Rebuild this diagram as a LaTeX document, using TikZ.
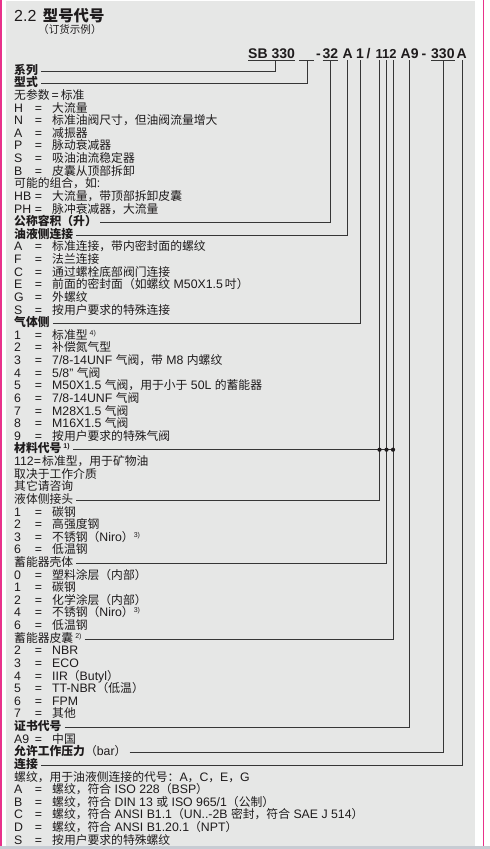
\documentclass[tikz,border=0pt]{standalone}
\usepackage{fontspec}
\setmainfont{Liberation Sans}
\newfontfamily\cjk[Scale=0.96]{Noto Sans CJK SC}
\newcommand\zh[1]{{\cjk #1}}
\newcommand\supx[1]{\raisebox{4pt}{\fontsize{7}{7}\selectfont #1}}
\definecolor{bg}{HTML}{E6E7E6}
\definecolor{ink}{HTML}{1E1B1C}
\definecolor{ln}{HTML}{363636}
\definecolor{edge}{HTML}{E8318A}
\definecolor{stripe}{HTML}{C7CCD3}
\tikzset{
  txt/.style={anchor=west, inner sep=0pt, text height=8.8pt, text depth=2.4pt,
    font=\fontsize{12.3}{12.5}\selectfont, text=ink},
  hd/.style={txt, font=\fontsize{12.3}{12.5}\selectfont\bfseries},
  conn/.style={draw=ln, line width=0.8pt, shorten <=3pt},
  uline/.style={draw=ln, line width=0.9pt},
  codetxt/.style={anchor=base west, inner sep=0pt,
    font=\fontsize{14}{14}\selectfont\bfseries, text=ink},
  junction/.style={fill=ink},
}
\newcommand\rowy[1]{\pgfmathsetmacro\yy{71+(#1-1)*12.623}}
\newcommand\hrow[3]{\rowy{#2}\node[hd] (#1) at (14,\yy) {#3};}
\newcommand\prow[3]{\rowy{#2}\node[txt] (#1) at (14,\yy) {#3};}
\newcommand\irow[4]{\rowy{#2}%
  \node[txt] (#1k) at (14,\yy) {#3};%
  \node[txt, anchor=center] (#1e) at (38.5,\yy) {=};%
  \node[txt] (#1v) at (52,\yy) {#4};}
\begin{document}
\begin{tikzpicture}[x=1pt, y=-1pt]
\useasboundingbox (0,0) rectangle (490,849);
% frame
\fill[bg] (6,1) rectangle (475,846);
\fill[edge] (0,0) rectangle (1.6,846);
\fill[edge] (482.7,0) rectangle (484.3,846);
\fill[stripe] (0,846) rectangle (490,849);
% title
\node[anchor=base west, inner sep=0pt, text=ink, font=\fontsize{16}{16}\selectfont] (title) at (14,21)
  {2.2\hspace{6.5pt}\zh{\bfseries 型号代号}};
\node[anchor=west, inner sep=0pt, text=ink, font=\fontsize{11}{11}\selectfont] (subtitle) at (38,29.5)
  {\zh{（订货示例）}};
% code line
\node[codetxt] (cSB) at (248,58.3) {SB 330};
\node[codetxt] (cD1) at (315.8,58.3) {-};
\node[codetxt] (c32) at (322.5,58.3) {32};
\node[codetxt] (cA) at (342.5,58.3) {A};
\node[codetxt] (c1) at (356,58.3) {1};
\node[codetxt] (cSl) at (366.5,58.3) {/};
\node[codetxt, font=\fontsize{13}{14}\selectfont\bfseries] (c112) at (375.5,58.3) {112};
\node[codetxt] (cA9) at (400.5,58.3) {A9};
\node[codetxt] (cD2) at (421.5,58.3) {-};
\node[codetxt] (c330) at (431,58.3) {330};
\node[codetxt] (cA2) at (456.5,58.3) {A};
% underlines
\draw[uline] ([yshift=-1.8pt]cSB.base west) -- ([yshift=-1.8pt]cSB.base east);
\coordinate (blankL) at (299,60);
\coordinate (blankR) at (314,60);
\draw[uline] (blankL) -- (blankR);
\draw[uline] ([yshift=-1.8pt]c32.base west) -- ([yshift=-1.8pt]c32.base east);
\draw[uline] ([yshift=-1.8pt]c330.base west) -- ([yshift=-1.8pt]c330.base east);
% tops of the leader lines
\coordinate (u-sb) at (275,60);
\coordinate (u-blank) at (307,60);
\coordinate (u-32) at (330,60);
\coordinate (u-A) at (347,60);
\coordinate (u-1) at (360,60);
\coordinate (u-m1) at (379.5,60);
\coordinate (u-m2) at (386.5,60);
\coordinate (u-m3) at (393,60);
\coordinate (u-A9) at (409,60);
\coordinate (u-330) at (443,60);
\coordinate (u-A2) at (462,60);
% rows
\hrow{series}{1}{\zh{系列}}
\hrow{type}{2}{\zh{型式}}
\prow{r3}{3}{\zh{无参数}\,=\,\zh{标准}}
\irow{r4}{4}{H}{\zh{大流量}}
\irow{r5}{5}{N}{\zh{标准油阀尺寸，但油阀流量增大}}
\irow{r6}{6}{A}{\zh{减振器}}
\irow{r7}{7}{P}{\zh{脉动衰减器}}
\irow{r8}{8}{S}{\zh{吸油油流稳定器}}
\irow{r9}{9}{B}{\zh{皮囊从顶部拆卸}}
\prow{r10}{10}{\zh{可能的组合，如}:}
\irow{r11}{11}{HB}{\zh{大流量，带顶部拆卸皮囊}}
\irow{r12}{12}{PH}{\zh{脉冲衰减器，大流量}}
\hrow{vol}{13}{\zh{公称容积（升）}}
\hrow{oil}{14}{\zh{油液侧连接}}
\irow{r15}{15}{A}{\zh{标准连接，带内密封面的螺纹}}
\irow{r16}{16}{F}{\zh{法兰连接}}
\irow{r17}{17}{C}{\zh{通过螺栓底部阀门连接}}
\irow{r18}{18}{E}{\zh{前面的密封面（如螺纹} M50X1.5\,\zh{吋）}}
\irow{r19}{19}{G}{\zh{外螺纹}}
\irow{r20}{20}{S}{\zh{按用户要求的特殊连接}}
\hrow{gas}{21}{\zh{气体侧}}
\irow{r22}{22}{1}{\zh{标准型}\,\supx{4)}}
\irow{r23}{23}{2}{\zh{补偿氮气型}}
\irow{r24}{24}{3}{7/8-14UNF \zh{气阀，带} M8 \zh{内螺纹}}
\irow{r25}{25}{4}{5/8" \zh{气阀}}
\irow{r26}{26}{5}{M50X1.5 \zh{气阀，用于小于} 50L \zh{的蓄能器}}
\irow{r27}{27}{6}{7/8-14UNF \zh{气阀}}
\irow{r28}{28}{7}{M28X1.5 \zh{气阀}}
\irow{r29}{29}{8}{M16X1.5 \zh{气阀}}
\irow{r30}{30}{9}{\zh{按用户要求的特殊气阀}}
\hrow{mat}{31}{\zh{材料代号}\,\supx{1)}}
\prow{r32}{32}{112=\hspace{1.2pt}\zh{标准型，用于矿物油}}
\prow{r33}{33}{\zh{取决于工作介质}}
\prow{r34}{34}{\zh{其它请咨询}}
\prow{liq}{35}{\zh{液体侧接头}}
\irow{r36}{36}{1}{\zh{碳钢}}
\irow{r37}{37}{2}{\zh{高强度钢}}
\irow{r38}{38}{3}{\zh{不锈钢（}Niro\zh{）}\supx{3)}}
\irow{r39}{39}{6}{\zh{低温钢}}
\prow{shell}{40}{\zh{蓄能器壳体}}
\irow{r41}{41}{0}{\zh{塑料涂层（内部）}}
\irow{r42}{42}{1}{\zh{碳钢}}
\irow{r43}{43}{2}{\zh{化学涂层（内部）}}
\irow{r44}{44}{4}{\zh{不锈钢（}Niro\zh{）}\supx{3)}}
\irow{r45}{45}{6}{\zh{低温钢}}
\prow{bladder}{46}{\zh{蓄能器皮囊}\,\supx{2)}}
\irow{r47}{47}{2}{NBR}
\irow{r48}{48}{3}{ECO}
\irow{r49}{49}{4}{IIR\zh{（}Butyl\zh{）}}
\irow{r50}{50}{5}{TT-NBR\zh{（低温）}}
\irow{r51}{51}{6}{FPM}
\irow{r52}{52}{7}{\zh{其他}}
\hrow{cert}{53}{\zh{证书代号}}
\irow{r54}{54}{A9}{\zh{中国}}
\hrow{press}{55}{\zh{允许工作压力}{\mdseries\zh{（}bar\zh{）}}}
\hrow{link}{56}{\zh{连接}}
\prow{r57}{57}{\zh{螺纹，用于油液侧连接的代号：}A\zh{，}C\zh{，}E\zh{，}G}
\irow{r58}{58}{A}{\zh{螺纹，符合} ISO 228\zh{（}BSP\zh{）}}
\irow{r59}{59}{B}{\zh{螺纹，符合} DIN 13 \zh{或} ISO 965/1\zh{（公制）}}
\irow{r60}{60}{C}{\zh{螺纹，符合} ANSI B1.1\zh{（}UN..-2B \zh{密封，符合} SAE J 514\zh{）}}
\irow{r61}{61}{D}{\zh{螺纹，符合} ANSI B1.20.1\zh{（}NPT\zh{）}}
\irow{r62}{62}{S}{\zh{按用户要求的特殊螺纹}}
% connectors
\draw[conn] (series.east) -| (u-sb);
\draw[conn] (type.east) -| (u-blank);
\draw[conn] (vol.east) -| (u-32);
\draw[conn] (oil.east) -| (u-A);
\draw[conn] (gas.east) -| (u-1);
\draw[conn] (mat.east) -- (mat.east -| u-m3);
\draw[conn] (liq.east) -| (u-m1);
\draw[conn] (shell.east) -| (u-m2);
\draw[conn] (bladder.east) -| (u-m3);
\draw[conn] (cert.east) -| (u-A9);
\draw[conn] (press.east) -| (u-330);
\draw[conn] (link.east) -| (u-A2);
\fill[junction] (mat.east -| u-m1) circle (2.1);
\fill[junction] (mat.east -| u-m2) circle (2.1);
\fill[junction] (mat.east -| u-m3) circle (2.1);
\end{tikzpicture}
\end{document}
